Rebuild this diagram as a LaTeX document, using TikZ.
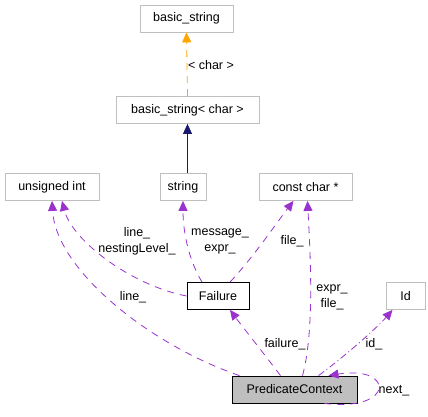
\documentclass[tikz,border=0pt]{standalone}
\usepackage{fontspec}
\setmainfont{Liberation Sans}
\usetikzlibrary{arrows.meta}
\definecolor{edgepurple}{HTML}{9A32CD}
\definecolor{boxgray}{HTML}{BFBFBF}
\definecolor{navyedge}{HTML}{191970}
\definecolor{orangeedge}{HTML}{FFA500}
\begin{document}
\begin{tikzpicture}[x=1pt,y=-1pt,
  font=\fontsize{12.5}{16}\selectfont,
  cls/.style={draw=boxgray, line width=0.8pt, rectangle, inner sep=0pt, minimum height=27pt},
  clsdark/.style={draw=black, line width=0.8pt, rectangle, inner sep=0pt, minimum height=27pt},
  tip/.style={-{Triangle[length=10pt,width=9pt]}},
  dep/.style={tip, draw=edgepurple, line width=0.8pt, dash pattern=on 7pt off 6pt},
  depdot/.style={tip, draw=edgepurple, line width=0.8pt, dash pattern=on 7pt off 3pt on 1pt off 3pt},
  lbl/.style={inner sep=0pt, align=center, font=\fontsize{12.5}{16}\selectfont}
]
\useasboundingbox (0,0) rectangle (428,416);
\node[cls, minimum width=93pt] (bs) at (186.5,18.5) {basic\_string};
\node[cls, minimum width=143pt] (bsc) at (187.5,110) {basic\_string< char >};
\node[cls, minimum width=94pt] (ui) at (52,187) {unsigned int};
\node[cls, minimum width=46pt] (str) at (183,187) {string};
\node[cls, minimum width=93pt] (cc) at (305.5,187) {const char *};
\node[clsdark, minimum width=62pt] (fail) at (218,296) {Failure};
\node[cls, minimum width=39pt] (id) at (405.5,296) {Id};
\node[clsdark, fill=boxgray, minimum width=125pt] (pc) at (294.5,389.5) {PredicateContext};

\draw[tip, draw=orangeedge, line width=0.8pt, dash pattern=on 7pt off 6pt] (bsc.north) -- (bs.south);
\draw[tip, draw=navyedge, line width=0.8pt] (bsc.south |- str.north) -- (bsc.south);

\draw[dep] (fail.west) .. controls (130,285) and (72,240) .. ([xshift=10pt]ui.south);
\draw[dep] ([xshift=-55pt]pc.north) .. controls (150,345) and (56,270) .. (ui.south);
\draw[dep] ([xshift=-16pt]fail.north) .. controls (190,262) and (183,235) .. (str.south);
\draw[dep] ([xshift=12pt]fail.north) .. controls (255,255) and (275,225) .. ([xshift=-12pt]cc.south);
\draw[dep] ([xshift=8pt]pc.north) .. controls (315,330) and (310,250) .. ([xshift=2pt]cc.south);
\draw[dep] ([xshift=-14pt]pc.north) .. controls (265,355) and (245,330) .. ([xshift=12pt]fail.south);
\draw[depdot] ([xshift=24pt]pc.north) .. controls (340,360) and (375,330) .. ([xshift=-13pt]id.south);
\draw[dep] ([xshift=30pt]pc.south) .. controls (395,412) and (395,365) .. ([xshift=34pt]pc.north);

\node[lbl] (l1) at (211,65) {< char >};
\node[lbl] (l2) at (137,241) {line\_\\nestingLevel\_};
\node[lbl] (l3) at (220,241) {message\_\\expr\_};
\node[lbl] (l4) at (292,241) {file\_};
\node[lbl] (l5) at (332,297) {expr\_\\file\_};
\node[lbl] (l6) at (133,297) {line\_};
\node[lbl] (l7) at (285,344) {failure\_};
\node[lbl] (l8) at (374,344) {id\_};
\node[lbl] (l9) at (394,391) {next\_};
\end{tikzpicture}
\end{document}
